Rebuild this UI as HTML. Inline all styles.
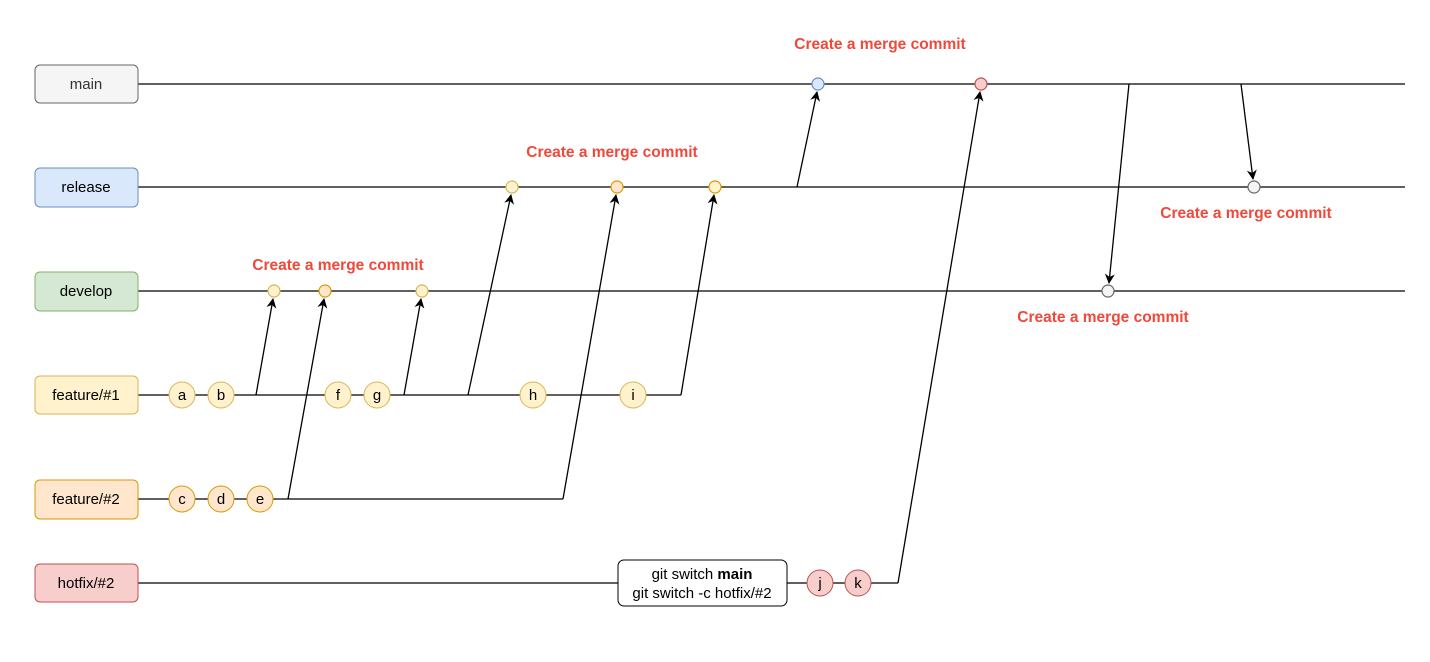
<!DOCTYPE html>
<html><head><meta charset="utf-8"><style>
html,body{margin:0;padding:0;background:#fff}
svg{display:block}
text{font-family:"Liberation Sans",Arial,sans-serif}
</style></head><body>
<svg width="1430" height="662" viewBox="0 0 1430 662" xmlns="http://www.w3.org/2000/svg">
<defs>
<marker id="ar" markerWidth="10" markerHeight="10" refX="9" refY="5" orient="auto" markerUnits="userSpaceOnUse">
<path d="M0,0 L10,5 L0,10 L3,5 Z" fill="#000"/>
</marker>
</defs>
<g stroke="#000" stroke-width="1.3" fill="none">
<line x1="138" y1="84" x2="1405" y2="84"/>
<line x1="138" y1="187" x2="1405" y2="187"/>
<line x1="138" y1="291" x2="1405" y2="291"/>
<polyline points="138,395 681,395"/>
<polyline points="138,499 563,499"/>
<line x1="138" y1="583" x2="618" y2="583"/>
<polyline points="787,583 898,583"/>
<line x1="256" y1="395" x2="273" y2="299" marker-end="url(#ar)"/>
<line x1="288" y1="499" x2="324" y2="299" marker-end="url(#ar)"/>
<line x1="404" y1="395" x2="421" y2="299" marker-end="url(#ar)"/>
<line x1="468" y1="395" x2="511" y2="195" marker-end="url(#ar)"/>
<polyline points="563,499 616,195" marker-end="url(#ar)"/>
<polyline points="681,395 714,195" marker-end="url(#ar)"/>
<line x1="797" y1="187" x2="817" y2="92" marker-end="url(#ar)"/>
<polyline points="898,583 980,92" marker-end="url(#ar)"/>
<line x1="1129" y1="84" x2="1109" y2="283" marker-end="url(#ar)"/>
<line x1="1241" y1="84" x2="1253" y2="179" marker-end="url(#ar)"/>
</g>
<g font-size="15" text-anchor="middle">
<rect x="35" y="65" width="103" height="38" rx="5" fill="#f5f5f5" stroke="#666"/>
<text x="86" y="89" fill="#333">main</text>
<rect x="35" y="168" width="103" height="39" rx="5" fill="#dae8fc" stroke="#6c8ebf"/>
<text x="86" y="192">release</text>
<rect x="35" y="272" width="103" height="39" rx="5" fill="#d5e8d4" stroke="#82b366"/>
<text x="86" y="296">develop</text>
<rect x="35" y="376" width="103" height="38" rx="5" fill="#fff2cc" stroke="#d6b656"/>
<text x="86" y="400">feature/#1</text>
<rect x="35" y="480" width="103" height="39" rx="5" fill="#ffe6cc" stroke="#d79b00"/>
<text x="86" y="504">feature/#2</text>
<rect x="35" y="564" width="103" height="38" rx="5" fill="#f8cecc" stroke="#b85450"/>
<text x="86" y="588">hotfix/#2</text>
</g>
<g font-size="15" text-anchor="middle">
<g fill="#fff2cc" stroke="#d6b656">
<circle cx="182" cy="395" r="13"/><circle cx="221" cy="395" r="13"/>
<circle cx="338" cy="395" r="13"/><circle cx="377" cy="395" r="13"/>
<circle cx="533" cy="395" r="13"/><circle cx="633" cy="395" r="13"/>
</g>
<g fill="#ffe6cc" stroke="#d79b00">
<circle cx="182" cy="499" r="13"/><circle cx="221" cy="499" r="13"/><circle cx="260" cy="499" r="13"/>
</g>
<g fill="#f8cecc" stroke="#b85450">
<circle cx="820" cy="583" r="13"/><circle cx="858" cy="583" r="13"/>
</g>
<text x="182" y="400">a</text><text x="221" y="400">b</text>
<text x="338" y="400">f</text><text x="377" y="400">g</text>
<text x="533" y="400">h</text><text x="633" y="400">i</text>
<text x="182" y="504">c</text><text x="221" y="504">d</text><text x="260" y="504">e</text>
<text x="820" y="588">j</text><text x="858" y="588">k</text>
</g>
<g stroke-width="1.2">
<circle cx="274" cy="291" r="6" fill="#fff2cc" stroke="#d6b656"/>
<circle cx="325" cy="291" r="6" fill="#ffe6cc" stroke="#d79b00"/>
<circle cx="422" cy="291" r="6" fill="#fff2cc" stroke="#d6b656"/>
<circle cx="512" cy="187" r="6" fill="#fff2cc" stroke="#d6b656"/>
<circle cx="617" cy="187" r="6" fill="#ffe6cc" stroke="#d79b00"/>
<circle cx="715" cy="187" r="6" fill="#fff2cc" stroke="#d79b00"/>
<circle cx="818" cy="84" r="6" fill="#dae8fc" stroke="#6c8ebf"/>
<circle cx="981" cy="84" r="6" fill="#f8cecc" stroke="#b85450"/>
<circle cx="1108" cy="291" r="6" fill="#f5f5f5" stroke="#666"/>
<circle cx="1254" cy="187" r="6" fill="#f5f5f5" stroke="#666"/>
</g>
<rect x="618" y="560" width="169" height="46" rx="6" fill="#fff" stroke="#000"/>
<g font-size="15" text-anchor="middle">
<text x="702" y="579">git switch <tspan font-weight="bold">main</tspan></text>
<text x="702" y="598">git switch -c hotfix/#2</text>
</g>
<g font-size="15.5" font-weight="bold" fill="#f0483a" text-anchor="middle">
<text x="338" y="270">Create a merge commit</text>
<text x="612" y="157">Create a merge commit</text>
<text x="880" y="49">Create a merge commit</text>
<text x="1246" y="218">Create a merge commit</text>
<text x="1103" y="322">Create a merge commit</text>
</g>
</svg>
</body></html>
